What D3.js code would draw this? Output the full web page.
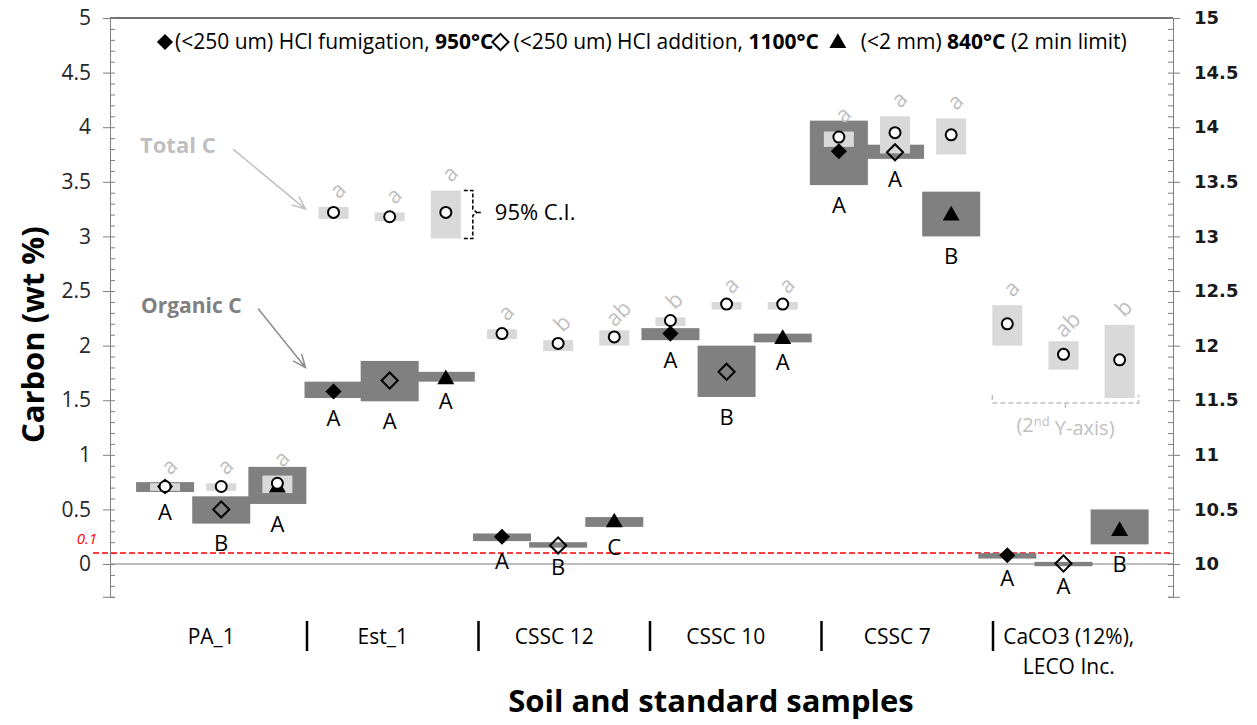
<!DOCTYPE html>
<html>
<head>
<meta charset="utf-8">
<script src="https://cdn.jsdelivr.net/npm/d3@7"></script>
<style>
  body { margin: 0; background: #fff; }
  svg { font-family: "Open Sans", sans-serif; }
</style>
</head>
<body>
<div id="chart"></div>
<script>
// sample groups (one label row per group)
var samples = ["PA_1", "Est_1", "CSSC 12", "CSSC 10", "CSSC 7", "CaCO3 (12%),\nLECO Inc."];
// three methods per sample, in slot order
var methods = ["fum", "add", "tri"];
var rightAxisSample = 5; // total C of this sample is read on the 2nd Y-axis

// organic C: mean and 95% C.I., one value per slot (sample x method)
var orgMean = [0.71, 0.50, 0.71, 1.58, 1.68, 1.70, 0.25, 0.17, 0.39, 2.11, 1.76, 2.07, 3.78, 3.77, 3.20, 0.08, 0.005, 0.31];
var orgLo   = [0.66, 0.37, 0.55, 1.52, 1.49, 1.67, 0.21, 0.15, 0.34, 2.05, 1.53, 2.03, 3.47, 3.71, 3.00, 0.05, -0.02, 0.18];
var orgHi   = [0.75, 0.62, 0.89, 1.67, 1.86, 1.76, 0.28, 0.20, 0.43, 2.16, 2.00, 2.11, 4.06, 3.84, 3.41, 0.10, 0.02, 0.50];
var orgLetters = ["A", "B", "A", "A", "A", "A", "A", "B", "C", "A", "B", "A", "A", "A", "B", "A", "A", "B"];

// total C: mean and 95% C.I.
var totMean = [0.71, 0.71, 0.74, 3.22, 3.18, 3.22, 2.11, 2.02, 2.08, 2.23, 2.38, 2.38, 3.91, 3.95, 3.93, 12.20, 11.92, 11.87];
var totLo   = [0.67, 0.67, 0.65, 3.16, 3.14, 2.98, 2.06, 1.95, 2.00, 2.18, 2.33, 2.33, 3.82, 3.76, 3.75, 12.00, 11.78, 11.52];
var totHi   = [0.74, 0.74, 0.81, 3.27, 3.22, 3.42, 2.15, 2.05, 2.14, 2.26, 2.40, 2.40, 3.96, 4.10, 4.08, 12.37, 12.04, 12.19];
var totLetters = ["a", "a", "a", "a", "a", "a", "a", "b", "ab", "b", "a", "a", "a", "a", "a", "a", "ab", "b"];

// axis ticks
var leftTicks = [0, 0.5, 1, 1.5, 2, 2.5, 3, 3.5, 4, 4.5, 5];
var rightTicks = [10, 10.5, 11, 11.5, 12, 12.5, 13, 13.5, 14, 14.5, 15];
var limitValue = 0.1;

var legendItems = [
  {sym: "fum", text: "(<250 um) HCl fumigation, ", bold: "950°C", after: "", pad: 7, gap: 10},
  {sym: "add", text: "(<250 um) HCl addition, ", bold: "1100°C", after: "", pad: 7, gap: 13},
  {sym: "tri", text: "(<2 mm) ", bold: "840°C", after: " (2 min limit)", pad: 19, gap: 23}
];

var width = 1257, height = 725;
var plotLeft = 110, plotRight = 1173;

var dark = "#808080", light = "#d9d9d9", letterGray = "#bfbfbf";

var rows = orgMean.map(function(d, i) {
  var s = Math.floor(i / 3);
  return {
    i: i, sample: s, method: methods[i % 3],
    om: orgMean[i], olo: orgLo[i], ohi: orgHi[i], oL: orgLetters[i],
    tm: totMean[i], tlo: totLo[i], thi: totHi[i], tL: totLetters[i],
    right: s === rightAxisSample
  };
});

var svg = d3.select("#chart").append("svg")
  .attr("width", width)
  .attr("height", height);

var y = d3.scaleLinear().domain([-0.3, 5]).range([596.8, 18]);
var y2 = d3.scaleLinear().domain([9.7, 15]).range([596.8, 18]);
var x = d3.scaleLinear().domain([-0.5, 17.5]).range([137, 1147.7]);
var xCat = d3.scaleBand().domain(d3.range(samples.length)).range([135.5, 1164.5]);
var ty = function(d, v) { return d.right ? y2(v) : y(v); };

// top border
svg.append("line")
  .attr("x1", plotLeft).attr("x2", plotRight)
  .attr("y1", y(5)).attr("y2", y(5))
  .style("stroke", "#404040").style("stroke-width", 1.5);

// zero line
svg.append("line")
  .attr("x1", plotLeft).attr("x2", plotRight)
  .attr("y1", y(0)).attr("y2", y(0))
  .style("stroke", "#a6a6a6").style("stroke-width", 1.5);

// left axis (minor ticks inside, major ticks + labels outside)
svg.append("g").attr("class", "minor").attr("transform", "translate(" + plotLeft + ",0)")
  .call(d3.axisRight(y).tickValues(d3.range(-3, 51).map(function(k) { return k / 10; }))
    .tickSize(5).tickFormat(""));
var gl = svg.append("g").attr("transform", "translate(" + plotLeft + ",0)")
  .call(d3.axisLeft(y).tickValues(leftTicks).tickSize(7).tickPadding(12)
    .tickFormat(function(d) { return d; }));
gl.selectAll("text").style("font-family", "Open Sans").style("font-size", "21px").style("fill", "#262626");

// right axis
svg.append("g").attr("class", "minor").attr("transform", "translate(" + plotRight + ",0)")
  .call(d3.axisLeft(y2).tickValues(d3.range(97, 151).map(function(k) { return k / 10; }))
    .tickSize(5).tickFormat(""));
var gr = svg.append("g").attr("transform", "translate(" + plotRight + ",0)")
  .call(d3.axisRight(y2).tickValues(rightTicks).tickSize(7).tickPadding(14)
    .tickFormat(function(d) { return d; }));
gr.selectAll("text").style("font-family", "DejaVu Sans").style("font-weight", "bold")
  .style("font-size", "18px").style("fill", "#1a1a1a");
svg.selectAll(".domain, .tick line").style("stroke", "#7f7f7f");

// 0.1 limit line
svg.append("line")
  .attr("x1", 93).attr("x2", plotRight)
  .attr("y1", y(limitValue)).attr("y2", y(limitValue))
  .style("stroke", "#ff0000").style("stroke-width", 1.5)
  .style("stroke-dasharray", "6,3");
svg.append("text")
  .attr("x", 97).attr("y", y(limitValue) - 9)
  .attr("text-anchor", "end")
  .style("fill", "#ff0000").style("font-style", "italic").style("font-size", "15px")
  .text(limitValue);

// organic C bars
svg.append("g").selectAll("rect")
    .data(rows)
  .enter().append("rect")
    .attr("x", function(d) { return x(d.i) - 29; })
    .attr("width", 58)
    .attr("y", function(d) { return y(d.ohi); })
    .attr("height", function(d) { return y(d.olo) - y(d.ohi); })
    .style("fill", dark);

// total C bars
svg.append("g").selectAll("rect")
    .data(rows)
  .enter().append("rect")
    .attr("x", function(d) { return x(d.i) - 15; })
    .attr("width", 30)
    .attr("y", function(d) { return ty(d, d.thi); })
    .attr("height", function(d) { return ty(d, d.tlo) - ty(d, d.thi); })
    .style("fill", light);

var diamond = d3.symbol().type(d3.symbolSquare).size(130)();
var triangle = d3.symbol().type(d3.symbolTriangle).size(125)();

function drawSymbol(sel, method) {
  if (method === "tri") {
    sel.append("path").attr("d", triangle).attr("transform", "translate(0,1)")
      .style("fill", "#000");
  } else {
    sel.append("path").attr("d", diamond).attr("transform", "rotate(45)")
      .style("fill", method === "fum" ? "#000" : "none")
      .style("stroke", "#000").style("stroke-width", method === "fum" ? 0 : 2);
  }
}

// organic C markers
svg.append("g").selectAll("g")
    .data(rows)
  .enter().append("g")
    .attr("transform", function(d) { return "translate(" + x(d.i) + "," + y(d.om) + ")"; })
    .each(function(d) { drawSymbol(d3.select(this), d.method); });

// total C means
svg.append("g").selectAll("circle")
    .data(rows)
  .enter().append("circle")
    .attr("cx", function(d) { return x(d.i); })
    .attr("cy", function(d) { return ty(d, d.tm); })
    .attr("r", 5.5)
    .style("fill", "#fff").style("stroke", "#000").style("stroke-width", 2);

// significance letters
svg.append("g").selectAll("text")
    .data(rows)
  .enter().append("text")
    .attr("x", function(d) { return x(d.i); })
    .attr("y", function(d) { return y(d.olo) + 20; })
    .attr("dy", ".35em")
    .attr("text-anchor", "middle")
    .style("font-size", "22px").style("fill", "#000")
    .text(function(d) { return d.oL; });

svg.append("g").selectAll("text")
    .data(rows)
  .enter().append("text")
    .attr("transform", function(d) {
      return "translate(" + (x(d.i) + 4) + "," + (ty(d, d.thi) - 17) + ") rotate(-45)";
    })
    .attr("dy", ".35em")
    .attr("text-anchor", "middle")
    .style("font-size", "22px").style("fill", letterGray)
    .text(function(d) { return d.tL; });

// annotations: Total C / Organic C arrows
function arrow(x1, y1, x2, y2, color) {
  var a = Math.atan2(y2 - y1, x2 - x1), h = 14;
  svg.append("path")
    .attr("d", "M" + x1 + "," + y1 + "L" + x2 + "," + y2 +
      "M" + (x2 - h * Math.cos(a - 0.4)) + "," + (y2 - h * Math.sin(a - 0.4)) +
      "L" + x2 + "," + y2 +
      "L" + (x2 - h * Math.cos(a + 0.4)) + "," + (y2 - h * Math.sin(a + 0.4)))
    .style("fill", "none").style("stroke", color).style("stroke-width", 1.5);
}
svg.append("text").attr("x", 140).attr("y", y(3.83)).attr("dy", ".35em")
  .style("font-weight", "bold").style("font-size", "22px").style("fill", letterGray)
  .text("Total  C");
arrow(233, y(3.8), x(2.5), y(3.25), "#bfbfbf");
svg.append("text").attr("x", 141).attr("y", y(2.37)).attr("dy", ".35em")
  .style("font-weight", "bold").style("font-size", "21px").style("fill", dark)
  .text("Organic  C");
arrow(258, y(2.34), x(2.5), y(1.8), "#8c8c8c");

// 95% C.I. bracket on the Est_1 third bar
var bx = x(5) + 18, bTop = y(totHi[5]), bBot = y(totLo[5]), bMid = y(totMean[5]);
svg.append("path")
  .attr("d", "M" + bx + "," + bTop + "H" + (bx + 9) + "V" + (bMid - 3) + "L" + (bx + 13) + "," + bMid +
    "L" + (bx + 9) + "," + (bMid + 3) + "V" + bBot + "H" + bx + "M" + (bx + 13) + "," + bMid + "H" + (bx + 19))
  .style("fill", "none").style("stroke", "#000").style("stroke-width", 1.5)
  .style("stroke-dasharray", "4,2");
svg.append("text").attr("x", bx + 31).attr("y", bMid).attr("dy", ".35em")
  .style("font-size", "22px").style("fill", "#000")
  .text("95% C.I.");

// 2nd Y-axis bracket under CaCO3 total C
var cx1 = x(15) - 15, cx2 = x(17) + 19, cxm = (cx1 + cx2) / 2;
var cy = y2(d3.min(totLo.slice(15))) + 5;
svg.append("path")
  .attr("d", "M" + cx1 + "," + (cy - 8) + "V" + cy + "H" + cx2 + "V" + (cy - 8) +
    "M" + cxm + "," + cy + "V" + (cy + 5))
  .style("fill", "none").style("stroke", letterGray).style("stroke-width", 1.5)
  .style("stroke-dasharray", "5,3");
var t2 = svg.append("text").attr("x", cxm).attr("y", cy + 22).attr("dy", ".35em")
  .attr("text-anchor", "middle")
  .style("font-size", "20px").style("fill", letterGray);
t2.append("tspan").text("(2");
t2.append("tspan").attr("dy", "-0.45em").style("font-size", "13px").text("nd");
t2.append("tspan").attr("dy", "0.45em").text(" Y-axis)");

// category labels and separators
var cat = svg.append("g");
cat.selectAll("line")
    .data(d3.range(1, samples.length))
  .enter().append("line")
    .attr("x1", function(d) { return xCat(d); })
    .attr("x2", function(d) { return xCat(d); })
    .attr("y1", 621).attr("y2", 651)
    .style("stroke", "#000").style("stroke-width", 2.5);
cat.selectAll("text")
    .data(samples)
  .enter().append("text")
    .attr("x", function(d, i) { return xCat(i) + xCat.bandwidth() / 2 - 10; })
    .attr("y", 637)
    .attr("text-anchor", "middle")
    .style("font-size", "21px").style("fill", "#000")
    .each(function(d) {
      var t = d3.select(this);
      d.split("\n").forEach(function(line, k) {
        t.append("tspan").attr("x", t.attr("x")).attr("dy", k === 0 ? ".35em" : "1.4em").text(line);
      });
    });

// axis titles
svg.append("text")
  .attr("transform", "translate(33," + y(2.1) + ") rotate(-90)")
  .attr("text-anchor", "middle").attr("dy", ".35em")
  .style("font-weight", "bold").style("font-size", "31px")
  .text("Carbon (wt %)");
svg.append("text")
  .attr("x", 711).attr("y", 701).attr("dy", ".35em")
  .attr("text-anchor", "middle")
  .style("font-weight", "bold").style("font-size", "31px")
  .text("Soil and standard samples");

// legend
var lg = svg.append("g").attr("transform", "translate(158,42)");
var lx = 0;
legendItems.forEach(function(item) {
  lx += item.pad;
  var s = lg.append("g").attr("transform", "translate(" + lx + ",0)");
  drawSymbol(s, item.sym);
  lx += item.gap;
  var t = lg.append("text").attr("x", lx).attr("dy", ".35em")
    .style("font-size", "21px").style("fill", "#000");
  t.append("tspan").text(item.text);
  t.append("tspan").style("font-weight", "bold").text(item.bold);
  t.append("tspan").text(item.after);
  lx += t.node().getComputedTextLength();
});
</script>
</body>
</html>
